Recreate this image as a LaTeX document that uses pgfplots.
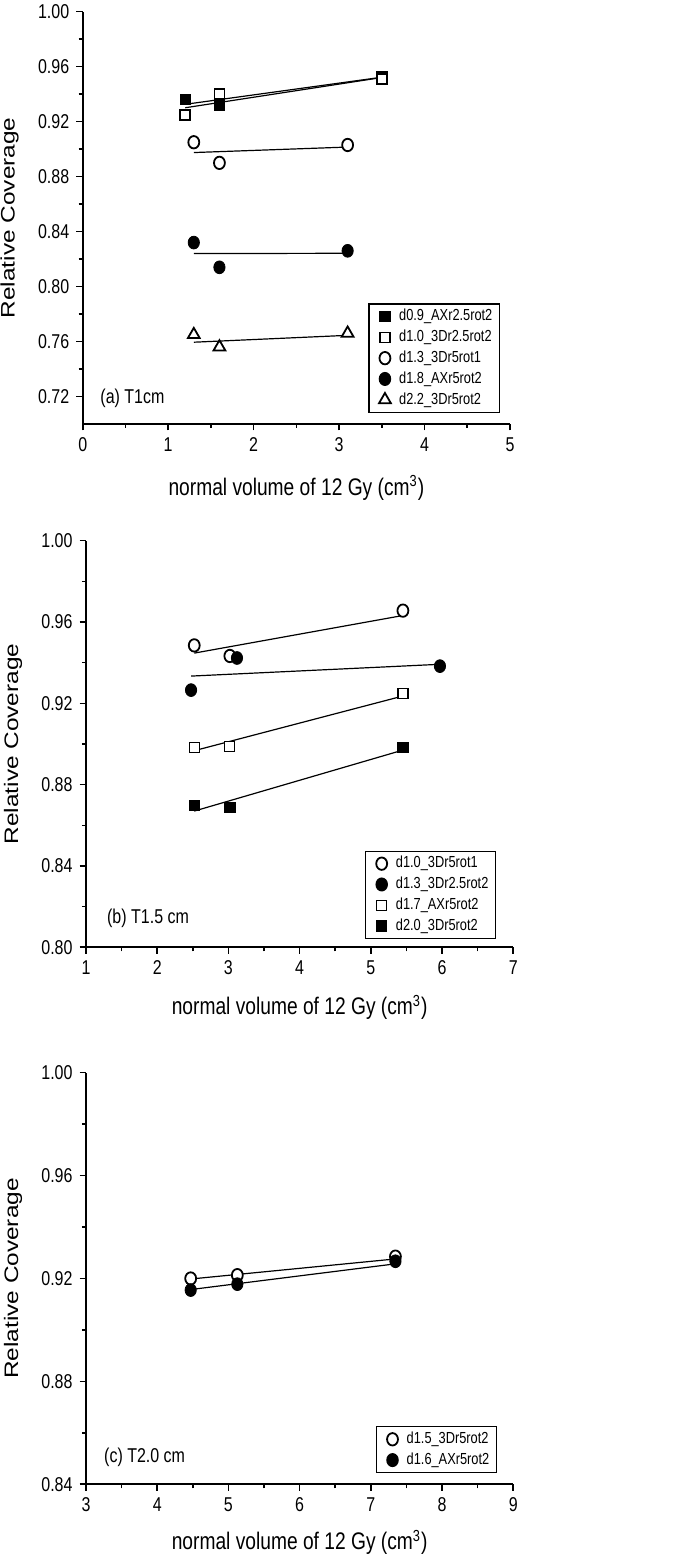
\documentclass[border=0pt]{standalone}
\usepackage{pgfplots}
\pgfplotsset{compat=1.18}
\usepackage{fontspec}
\setmainfont{Liberation Sans}[FakeStretch=0.8]
\newfontfamily\plainfont{Liberation Sans}

\pgfplotsset{
  panel/.style={
    scale only axis,
    width=213.65pt,
    axis x line*=bottom, axis y line*=left,
    axis line style={-, line width=0.9pt, black},
    tick align=outside,
    major tick length=3.2pt, minor tick length=2pt,
    every tick/.style={black, line width=0.8pt},
    tick label style={font=\fontsize{10}{12}\selectfont},
    /pgf/number format/assume math mode=true,
    yticklabel style={/pgf/number format/.cd, fixed, fixed zerofill, precision=2},
    xticklabel style={/pgf/number format/.cd, fixed, precision=0},
    xlabel style={font=\fontsize{12}{14}\selectfont, at={(axis description cs:0.5,0)}, anchor=center, yshift=-32pt},
    every axis y label/.style={at={(axis description cs:0,0.5)}, xshift=-36.5pt, rotate=90, anchor=center,
      font=\plainfont\fontsize{12.2}{14}\selectfont},
    xlabel={normal volume of 12 Gy (cm\textsuperscript{3})},
    ylabel={\scalebox{1}[0.8]{Relative Coverage}},
    legend image code/.code={\path[draw=none, fill=none] (0pt,-1pt) rectangle (11.5pt,1pt); \draw[#1] plot coordinates {(5pt,0pt)};},
    legend style={draw=black, line width=0.6pt, font=\fontsize{8}{9}\selectfont,
      inner xsep=3pt, inner ysep=2pt, row sep=1.9pt, nodes={inner sep=0.6pt}, cells={anchor=west}},
    legend cell align=left,
  },
  fitline/.style={black, line width=0.6pt, forget plot},
  fsq/.style={only marks, mark=square*, mark size=2.6pt, mark options={draw=black, fill=black, line width=0.5pt}},
  osq/.style={only marks, mark=square*, mark size=2.5pt, mark options={draw=black, fill=white, line width=0.8pt}},
  oci/.style={only marks, mark=*, mark size=3.1pt, mark options={draw=black, fill=white, line width=0.9pt, xscale=0.88}},
  fci/.style={only marks, mark=*, mark size=3.2pt, mark options={draw=black, fill=black, xscale=0.88}},
  otr/.style={only marks, mark=triangle*, mark size=3.4pt, mark options={draw=black, fill=white, line width=0.9pt}},
}

\begin{document}
\begin{tikzpicture}
\useasboundingbox (0,0) rectangle (342.5pt,781.5pt);

% ---------------- (a) ----------------
\begin{axis}[panel,
  at={(41.35pt,569.5pt)}, anchor=south west,
  height=206.15pt,
  xmin=0, xmax=5, ymin=0.70, ymax=1.00,
  xtick={0,1,2,3,4,5}, minor xtick={0.5,1.5,2.5,3.5,4.5},
  ytick={0.72,0.76,0.80,0.84,0.88,0.92,0.96,1.00},
  minor ytick={0.74,0.78,0.82,0.86,0.90,0.94,0.98},
  legend style={at={(rel axis cs:0.977,0.027)}, anchor=south east},
]
\addplot[fitline] coordinates {(1.2,0.9326) (3.5,0.9523)};
\addplot[fitline] coordinates {(1.2,0.9301) (3.5,0.9521)};
\addplot[fitline] coordinates {(1.3,0.8975) (3.1,0.9015)};
\addplot[fitline] coordinates {(1.3,0.8240) (3.1,0.8242)};
\addplot[fitline] coordinates {(1.3,0.7595) (3.1,0.7645)};
\addplot[fsq] coordinates {(1.2,0.936) (1.6,0.932) (3.5,0.953)};
\addlegendentry{d0.9\_AXr2.5rot2}
\addplot[osq] coordinates {(1.2,0.925) (1.6,0.940) (3.5,0.951)};
\addlegendentry{d1.0\_3Dr2.5rot2}
\addplot[oci] coordinates {(1.3,0.905) (1.6,0.890) (3.1,0.903)};
\addlegendentry{d1.3\_3Dr5rot1}
\addplot[fci] coordinates {(1.3,0.832) (1.6,0.814) (3.1,0.826)};
\addlegendentry{d1.8\_AXr5rot2}
\addplot[otr] coordinates {(1.3,0.765) (1.6,0.756) (3.1,0.766)};
\addlegendentry{d2.2\_3Dr5rot2}
\node[anchor=west, font=\fontsize{10}{12}\selectfont] at (rel axis cs:0.025,0.063) {(a) T1cm};
\end{axis}

% ---------------- (b) ----------------
\begin{axis}[panel,
  at={(43pt,307.85pt)}, anchor=south west,
  width=213.65pt, height=203.3pt,
  xmin=1, xmax=7, ymin=0.80, ymax=1.00,
  xtick={1,2,3,4,5,6,7}, minor xtick={1.5,2.5,3.5,4.5,5.5,6.5},
  ytick={0.80,0.84,0.88,0.92,0.96,1.00},
  minor ytick={0.82,0.86,0.90,0.94,0.98},
  xlabel style={yshift=2pt},
  legend style={at={(rel axis cs:0.96,0.02)}, anchor=south east},
]
\addplot[fitline] coordinates {(2.52,0.9447) (5.45,0.9632)};
\addplot[fitline] coordinates {(2.475,0.9334) (5.97,0.9392)};
\addplot[fitline] coordinates {(2.52,0.8967) (5.45,0.9236)};
\addplot[fitline] coordinates {(2.52,0.8670) (5.45,0.8970)};
\addplot[oci] coordinates {(2.52,0.9485) (3.02,0.9433) (5.45,0.9656)};
\addlegendentry{d1.0\_3Dr5rot1}
\addplot[fci] coordinates {(2.475,0.9265) (3.12,0.9423) (5.97,0.9383)};
\addlegendentry{d1.3\_3Dr2.5rot2}
\addplot[only marks, mark=square*, mark size=2.5pt, mark options={draw=black, fill=white, line width=0.6pt}] coordinates {(2.52,0.8982) (3.02,0.8987) (5.45,0.9247)};
\addlegendentry{d1.7\_AXr5rot2}
\addplot[fsq] coordinates {(2.52,0.8696) (3.02,0.8688) (5.45,0.8984)};
\addlegendentry{d2.0\_3Dr5rot2}
\node[anchor=west, font=\fontsize{10}{12}\selectfont] at (rel axis cs:0.033,0.072) {(b) T1.5 cm};
\end{axis}

% ---------------- (c) ----------------
\begin{axis}[panel,
  at={(43pt,39.35pt)}, anchor=south west,
  width=213.65pt, height=205.8pt,
  xmin=3, xmax=9, ymin=0.84, ymax=1.00,
  xtick={3,4,5,6,7,8,9}, minor xtick={3.5,4.5,5.5,6.5,7.5,8.5},
  ytick={0.84,0.88,0.92,0.96,1.00},
  minor ytick={0.86,0.90,0.94,0.98},
  xlabel style={yshift=3pt},
  legend style={at={(rel axis cs:0.962,0.027)}, anchor=south east},
]
\addplot[fitline] coordinates {(4.47,0.9198) (7.345,0.9276)};
\addplot[fitline] coordinates {(4.47,0.9157) (7.345,0.9257)};
\addplot[oci] coordinates {(4.47,0.9200) (5.125,0.9213) (7.345,0.9285)};
\addlegendentry{d1.5\_3Dr5rot2}
\addplot[fci] coordinates {(4.47,0.9155) (5.125,0.9178) (7.345,0.9267)};
\addlegendentry{d1.6\_AXr5rot2}
\node[anchor=west, font=\fontsize{10}{12}\selectfont] at (rel axis cs:0.026,0.066) {(c) T2.0 cm};
\end{axis}
\end{tikzpicture}
\end{document}
